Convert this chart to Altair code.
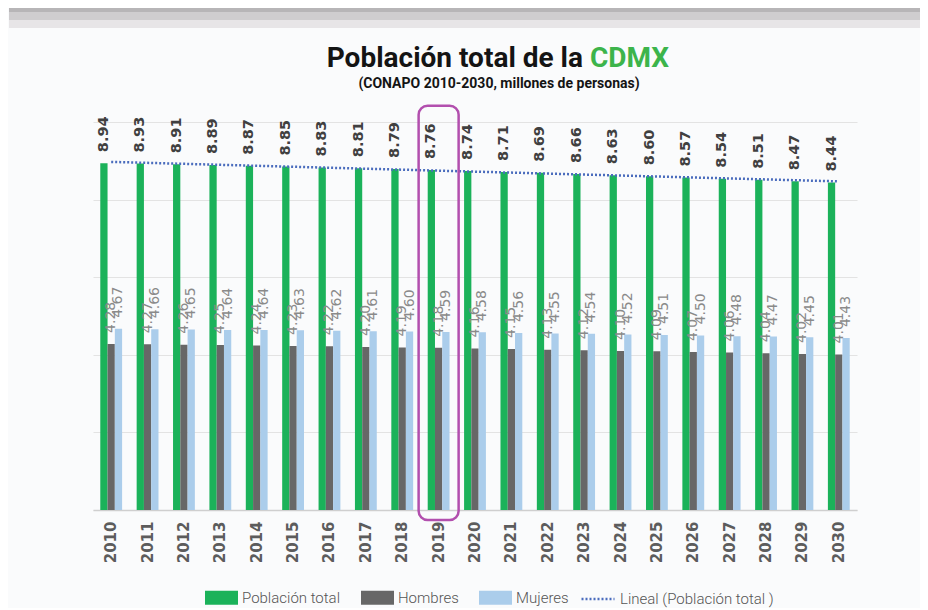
import altair as alt
import pandas as pd

years = list(range(2010, 2031))
total = [8.94, 8.93, 8.91, 8.89, 8.87, 8.85, 8.83, 8.81, 8.79, 8.76, 8.74,
         8.71, 8.69, 8.66, 8.63, 8.60, 8.57, 8.54, 8.51, 8.47, 8.44]
hombres = [4.28, 4.27, 4.26, 4.25, 4.24, 4.23, 4.22, 4.20, 4.19, 4.18, 4.16,
           4.15, 4.13, 4.12, 4.10, 4.09, 4.07, 4.06, 4.04, 4.02, 4.01]
mujeres = [4.67, 4.66, 4.65, 4.64, 4.64, 4.63, 4.62, 4.61, 4.60, 4.59, 4.58,
           4.56, 4.55, 4.54, 4.52, 4.51, 4.50, 4.48, 4.47, 4.45, 4.43]
series = ["Población total", "Hombres", "Mujeres"]
colors = ["#1bb25a", "#676767", "#abcdeb"]
trend_name = "Lineal (Población total )"
highlight_year = 2019
title_main = "Población total de la"
title_green = "CDMX"
subtitle = "(CONAPO 2010-2030, millones de personas)"

W, H = 764, 388
PAD = {"left": 85, "top": 114, "right": 63, "bottom": 98}
LEG_FONT = "Roboto"

rows = []
for i, yr in enumerate(years):
    for s, v in zip(series, (total[i], hombres[i], mujeres[i])):
        rows.append({"year": yr, "serie": s, "valor": v})
df = pd.DataFrame(rows)
df_total = pd.DataFrame({"year": years, "valor": total, "linea": trend_name})

x_enc = alt.X(
    "year:O",
    scale=alt.Scale(paddingInner=0.4, paddingOuter=0.2),
    axis=alt.Axis(title=None, labelAngle=270, labelFont="DejaVu Sans",
                  labelFontWeight="bold", labelFontSize=15, labelColor="#5c5c5c",
                  labelPadding=11, ticks=False, domainColor="#cfcfcf",
                  domainWidth=1.5, grid=False),
)
y_enc = alt.Y(
    "valor:Q",
    scale=alt.Scale(domain=[0, 10], nice=False),
    axis=alt.Axis(title=None, labels=False, ticks=False, domain=False,
                  values=list(range(0, 11)), gridColor="#e3e3e3", gridWidth=1),
)
xoff = alt.XOffset("serie:N", sort=series,
                   scale=alt.Scale(domain=series, paddingInner=0, paddingOuter=0))

bars = alt.Chart(df).mark_bar().encode(
    x=x_enc, y=y_enc, xOffset=xoff,
    color=alt.Color(
        "serie:N", sort=series, scale=alt.Scale(domain=series, range=colors),
        legend=alt.Legend(title=None, orient="none", legendX=112, legendY=459,
                          direction="horizontal",
                          symbolType="M-1,-0.42H1V0.42H-1Z", symbolSize=1089,
                          symbolStrokeWidth=0, labelFont=LEG_FONT,
                          labelFontWeight=300,
                          labelFontSize=15, labelColor="#555555", labelOffset=4,
                          columnPadding=20, padding=0, labelLimit=300),
    ),
)

trend = alt.Chart(df_total).transform_regression(
    "year", "valor", groupby=["linea"]
).mark_line(strokeDash=[2, 2], strokeWidth=2.5).encode(
    x=alt.X("year:O"), y=alt.Y("valor:Q"),
    stroke=alt.Stroke(
        "linea:N", scale=alt.Scale(range=["#4a6cbd"]),
        legend=alt.Legend(title=None, orient="none", legendX=487, legendY=459,
                          symbolType="stroke", symbolSize=1089,
                          symbolDash=[2, 2], symbolStrokeWidth=2.5,
                          labelFont=LEG_FONT, labelFontWeight=300,
                          labelFontSize=15,
                          labelColor="#555555", labelOffset=4, padding=0,
                          labelLimit=300),
    ),
)

lbl_total = alt.Chart(df).transform_filter(
    alt.datum.serie == "Población total"
).mark_text(angle=270, align="left", baseline="middle", dx=11,
            font="DejaVu Sans", fontWeight="bold", fontSize=14.5,
            color="#404040").encode(
    x="year:O", xOffset=xoff, y="valor:Q",
    text=alt.Text("valor:Q", format=".2f"),
)

lbl_sub = alt.Chart(df).transform_filter(
    alt.datum.serie != "Población total"
).mark_text(angle=270, align="left", baseline="middle", dx=11,
            font="DejaVu Sans", fontSize=14, color="#8a8a8a").encode(
    x="year:O", xOffset=xoff, y="valor:Q",
    text=alt.Text("valor:Q", format=".2f"),
)

box = alt.Chart(pd.DataFrame({"year": [highlight_year]})).mark_bar(
    width=40, fillOpacity=0, stroke="#b24fae", strokeWidth=2.5, cornerRadius=9
).encode(x="year:O", y=alt.datum(10.42), y2=alt.datum(-0.26))

one = pd.DataFrame({"k": [0]})
band_cols = ["#b7b5b7", "#cfcdcf", "#e7e5e7"]
band_edges = [(-114, -110), (-110, -102), (-102, -94)]
bands = [
    alt.Chart(one).mark_rect(color=c).encode(
        x=alt.value(-PAD["left"] + 1), x2=alt.value(W + PAD["right"]),
        y=alt.value(a), y2=alt.value(b))
    for c, (a, b) in zip(band_cols, band_edges)
]

t1 = alt.Chart(pd.DataFrame({"t": [title_main]})).mark_text(
    align="right", baseline="alphabetic", font="Roboto",
    fontWeight="bold", fontSize=28, color="#141414"
).encode(x=alt.value(490), y=alt.value(-55), text="t:N")
t2 = alt.Chart(pd.DataFrame({"t": [title_green]})).mark_text(
    align="left", baseline="alphabetic", font="Roboto",
    fontWeight="bold", fontSize=28, color="#3cb44b"
).encode(x=alt.value(497), y=alt.value(-55), text="t:N")
t3 = alt.Chart(pd.DataFrame({"t": [subtitle]})).mark_text(
    align="center", baseline="alphabetic", font="Roboto",
    fontWeight="bold", fontSize=14, color="#141414"
).encode(x=alt.value(406), y=alt.value(-34), text="t:N")

chart = alt.layer(
    *bands, bars, trend, lbl_total, lbl_sub, box, t1, t2, t3
).properties(
    width=W, height=H,
    autosize=alt.AutoSizeParams(type="none"),
    padding=PAD,
    background="#fafbfc",
).configure_view(stroke=None)

chart.save("out.html", embed_options={"renderer": "svg", "actions": False})
